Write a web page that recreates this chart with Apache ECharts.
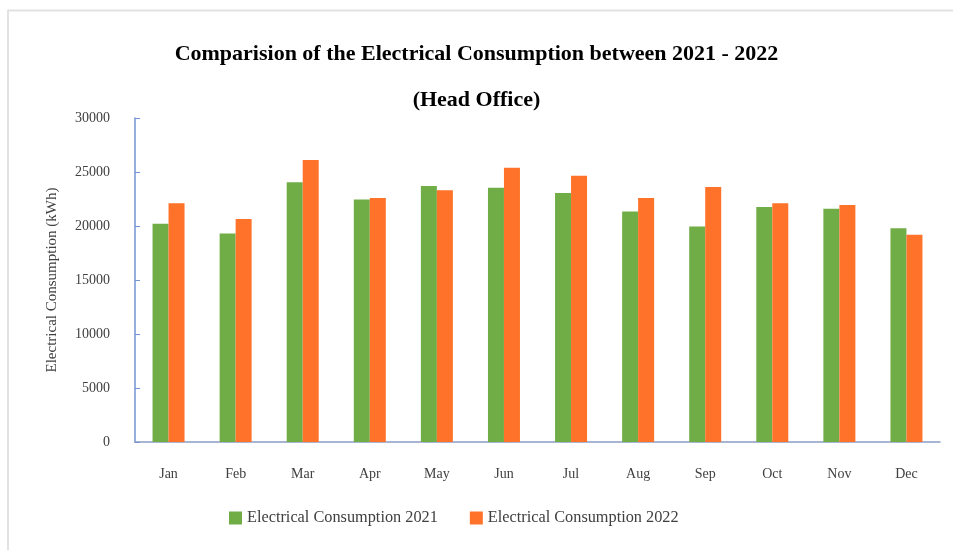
<!DOCTYPE html>
<html>
<head>
<meta charset="utf-8">
<script src="https://cdn.jsdelivr.net/npm/echarts@6/dist/echarts.min.js"></script>
<style>html,body{margin:0;padding:0;background:#fff;}#c{width:953px;height:550px;}</style>
</head>
<body>
<div id="c"></div>
<script>
const months = ['Jan','Feb','Mar','Apr','May','Jun','Jul','Aug','Sep','Oct','Nov','Dec'];
const consumption2021 = [20200, 19300, 24050, 22450, 23700, 23550, 23050, 21350, 19950, 21750, 21600, 19800];
const consumption2022 = [22100, 20650, 26100, 22600, 23300, 25400, 24650, 22600, 23600, 22100, 21950, 19200];
const seriesNames = ['Electrical Consumption 2021', 'Electrical Consumption 2022'];
const titleText = 'Comparision of the Electrical Consumption between 2021 - 2022\n(Head Office)';
const yAxisName = 'Electrical Consumption (kWh)';

const serif = '"Liberation Serif", "Times New Roman", serif';
const chart = echarts.init(document.getElementById('c'));
chart.setOption({
  animation: false,
  backgroundColor: '#fff',
  graphic: [
    { type: 'line', shape: { x1: 8, y1: 10.5, x2: 953, y2: 10.5 }, style: { stroke: '#e2e2e2', lineWidth: 2 } },
    { type: 'line', shape: { x1: 8, y1: 10, x2: 8, y2: 550 }, style: { stroke: '#e2e2e2', lineWidth: 2 } }
  ],
  title: {
    text: titleText,
    left: 'center',
    top: 26,
    textStyle: { fontFamily: serif, fontWeight: 'bold', fontSize: 22, color: '#000', lineHeight: 46 }
  },
  legend: {
    data: seriesNames,
    left: 224,
    top: 505,
    itemWidth: 13,
    itemHeight: 13,
    itemGap: 32,
    icon: 'rect',
    textStyle: { fontFamily: serif, fontSize: 16.3, color: '#404040' }
  },
  grid: { left: 135, right: 13, top: 118, bottom: 108, containLabel: false },
  xAxis: {
    type: 'category',
    data: months,
    axisLine: { lineStyle: { color: '#8a9cc4', width: 1.5 } },
    axisTick: { show: false },
    axisLabel: { fontFamily: serif, fontSize: 14, color: '#404040', margin: 25 }
  },
  yAxis: {
    type: 'value',
    min: 0,
    max: 30000,
    interval: 5000,
    name: yAxisName,
    nameLocation: 'middle',
    nameGap: 75,
    nameTextStyle: { fontFamily: serif, fontSize: 15, color: '#404040' },
    axisLine: { show: true, lineStyle: { color: '#7393d3', width: 1.5 } },
    axisTick: { show: true, inside: true, length: 5, lineStyle: { color: '#7393d3' } },
    splitLine: { show: false },
    axisLabel: { fontFamily: serif, fontSize: 14, color: '#404040', margin: 25, formatter: function (v) { return String(v); } }
  },
  series: [
    { name: seriesNames[0], type: 'bar', data: consumption2021, barWidth: 16, barGap: '0%', itemStyle: { color: '#70AD47' } },
    { name: seriesNames[1], type: 'bar', data: consumption2022, barWidth: 16, barGap: '0%', itemStyle: { color: '#FF7229' } }
  ]
});
</script>
</body>
</html>
